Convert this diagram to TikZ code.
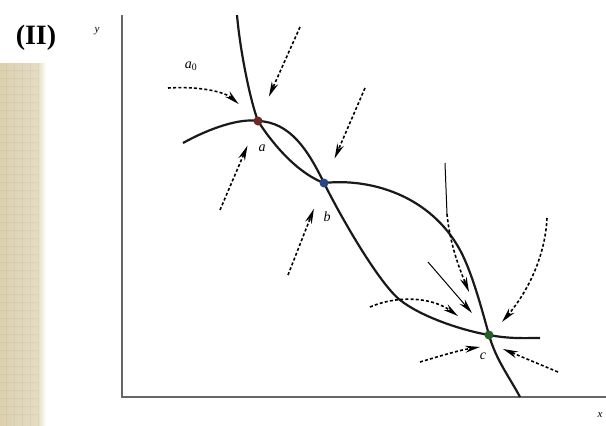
\documentclass[tikz,border=0pt]{standalone}
\usepackage{fontspec}
\setmainfont{Liberation Serif}
\usetikzlibrary{arrows.meta}
\definecolor{beige}{RGB}{220,208,176}
\definecolor{ptred}{RGB}{110,40,40}
\definecolor{ptblue}{RGB}{40,70,135}
\definecolor{ptgreen}{RGB}{40,95,40}
\begin{document}
\begin{tikzpicture}[x=1pt,y=-1pt,
  curve/.style={line width=2.2pt, black!90},
  axis/.style={line width=1.3pt, black!60},
  flow/.style={line width=1.6pt, dash pattern=on 3pt off 2.2pt, -{Stealth[length=15pt,width=7pt]}},
  thinflow/.style={line width=1pt, -{Stealth[length=15pt,width=7pt]}},
  eq/.style={circle, inner sep=0pt, minimum size=9pt},
  lbl/.style={font=\fontsize{14}{14}\selectfont\itshape, inner sep=0pt}]
\useasboundingbox (0,0) rectangle (606,426);
\fill[white] (0,0) rectangle (606,426);
% textured strip
\shade[left color=beige, right color=beige!75!white] (0,63) rectangle (38,426);
\shade[left color=beige!75!white, right color=white] (38,63) rectangle (46,426);
\foreach \yy in {70,78,...,420} {\draw[beige!70!black, opacity=0.12, line width=0.8pt] (0,\yy) -- (38,\yy);}
\foreach \xx in {6,14,...,38} {\draw[beige!70!black, opacity=0.1, line width=0.8pt] (\xx,63) -- (\xx,426);}

% title and axes
\node[font=\fontsize{28}{28}\selectfont\bfseries, inner sep=0pt] (title) at (36,38) {(II)};
\coordinate (origin) at (122,397);
\coordinate (ytop) at (122,15);
\coordinate (xend) at (606,397);
\draw[axis] (ytop) -- (origin) -- (xend);
\node[lbl, font=\fontsize{11}{11}\selectfont\itshape] (ylab) at (97,31) {y};
\node[lbl, font=\fontsize{11}{11}\selectfont\itshape] (xlab) at (600,415) {x};

% equilibrium points
\node[eq] (a) at (258,121) {};
\node[eq] (b) at (324,183) {};
\node[eq] (c) at (489,335) {};

% curve 1
\coordinate (s1) at (237,15);
\coordinate (m1) at (460,250);
\coordinate (e1) at (520,397);
\draw[curve] (s1) .. controls (240,50) and (250,100) .. (a.center)
  .. controls (270,140) and (295,172) .. (b.center)
  .. controls (370,178) and (430,195) .. (m1)
  .. controls (472,272) and (482,310) .. (c.center)
  .. controls (496,360) and (510,378) .. (e1);
% curve 2
\coordinate (s2) at (183,143);
\coordinate (m2) at (400,300);
\coordinate (e2) at (540,338);
\draw[curve] (s2) .. controls (210,128) and (240,118) .. (a.center)
  .. controls (290,122) and (308,150) .. (b.center)
  .. controls (344,223) and (380,284) .. (m2)
  .. controls (420,316) and (460,330) .. (c.center)
  .. controls (510,339) and (525,338) .. (e2);

% flow arrows around a
\coordinate (fa1) at (300,27);
\coordinate (fa2) at (220,210);
\coordinate (a0) at (168,88);
\draw[flow, shorten >=22pt] (fa1) -- (a);
\draw[flow, shorten >=22pt] (fa2) -- (a);
\draw[flow, shorten >=21pt] (a0) .. controls (200,86) and (225,92) .. (a);
\node[lbl] (a0lab) at (191,66) {a\textsubscript{\upshape 0}};

% flow arrows around b
\coordinate (fb1) at (365,88);
\coordinate (fb2) at (288,275);
\draw[flow, shorten >=22pt] (fb1) -- (b);
\draw[flow, shorten >=23pt] (fb2) -- (b);

% flow arrows around c
\coordinate (fc1s) at (445,163);
\coordinate (fc1m) at (447,214);
\coordinate (fc1t) at (469,292);
\draw[line width=1pt] (fc1s) -- (fc1m);
\draw[flow] (fc1m) .. controls (450,245) and (460,270) .. (fc1t);
\coordinate (fc2s) at (428,262);
\coordinate (fc2t) at (472,313);
\draw[thinflow] (fc2s) -- (fc2t);
\coordinate (fc3s) at (370,307);
\coordinate (fc3t) at (458,316);
\draw[flow] (fc3s) .. controls (395,296) and (430,296) .. (fc3t);
\coordinate (fc4s) at (547,218);
\coordinate (fc4t) at (502,322);
\draw[flow] (fc4s) .. controls (545,260) and (525,295) .. (fc4t);
\coordinate (fc5s) at (420,362);
\coordinate (fc5t) at (480,347);
\draw[flow] (fc5s) .. controls (440,356) and (460,350) .. (fc5t);
\coordinate (fc6s) at (558,372);
\coordinate (fc6t) at (503,349);
\draw[flow] (fc6s) -- (fc6t);

% points drawn on top
\node[eq, fill=ptred] at (a) {};
\node[eq, fill=ptblue] at (b) {};
\node[eq, fill=ptgreen] at (c) {};
\node[lbl] (alab) at (262,148) {a};
\node[lbl] (blab) at (327,217) {b};
\node[lbl] (clab) at (483,356) {c};
\end{tikzpicture}
\end{document}
